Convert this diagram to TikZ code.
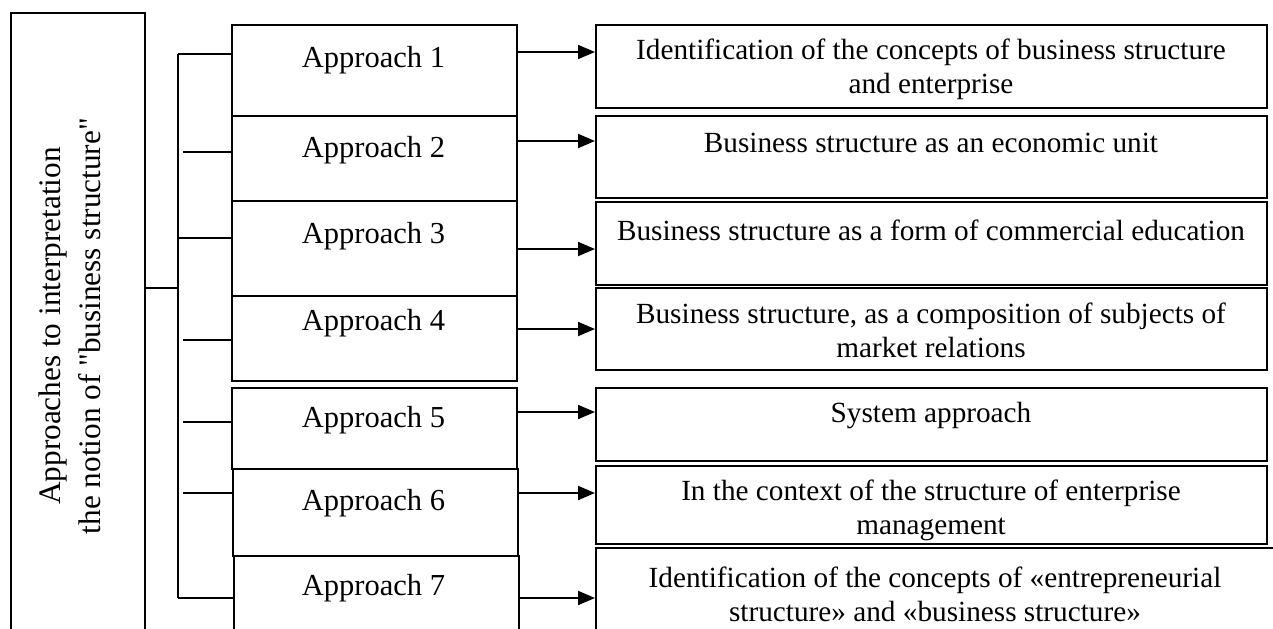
\documentclass[tikz,border=0pt]{standalone}
\usepackage{fontspec}
\setmainfont{Liberation Serif}[Ligatures=TeXOff]
\usepackage{tikz}
\usetikzlibrary{arrows.meta,positioning}
\tikzstyle{cell} = [draw, rectangle, inner sep=0pt]
\tikzstyle{apbox} = [cell, minimum width=114pt]
\tikzstyle{resbox} = [cell, minimum width=268.4pt]
\tikzstyle{txt} = [inner sep=0pt, align=center, font=\fontsize{11.7pt}{13.6pt}\selectfont]

\begin{document}
\begin{tikzpicture}[x=0.4pt, y=-0.4pt, >={Triangle[length=6.8pt,width=5.6pt]}, thick]
  \useasboundingbox (0,0) rectangle (1273,628);
  % left column
  \node [cell, rotate=90, minimum width=249.6pt, minimum height=53.6pt] (main) at (78,325) {};
  \node [txt, rotate=90, font=\fontsize{12.5pt}{16pt}\selectfont] (maint) at (70,326)
        {Approaches to interpretation\\the notion of "business structure"};

  % approaches
  \node [apbox, minimum height=36.4pt] (ap1) at (374,70.5) {};
  \node [apbox, minimum height=34pt] (ap2) at (374,158.5) {};
  \node [apbox, minimum height=38pt] (ap3) at (374,248.5) {};
  \node [apbox, minimum height=34pt] (ap4) at (374,338.5) {};
  \node [apbox, minimum height=32.4pt] (ap5) at (374,428.5) {};
  \node [apbox, minimum height=34.8pt] (ap6) at (375,512.5) {};
  \node [apbox, minimum height=41.6pt] (ap7) at (376,608) {};
  \foreach \i/\y in {1/60,2/150,3/236,4/323,5/420,6/503,7/588}
    \node [txt, font=\fontsize{12.2pt}{14pt}\selectfont] (apt\i) at (373.5,\y) {Approach \i};

  % interpretations
  \node [resbox, minimum height=33.2pt] (res1) at (931.5,66.5) {};
  \node [resbox, minimum height=32.8pt] (res2) at (931.5,157) {};
  \node [resbox, minimum height=33.2pt] (res3) at (931.5,243.5) {};
  \node [resbox, minimum height=32.8pt] (res4) at (931.5,329) {};
  \node [resbox, minimum height=29.2pt] (res5) at (931.5,424) {};
  \node [resbox, minimum height=31.2pt] (res6) at (931.5,505) {};
  \node [resbox, minimum width=281.6pt, minimum height=44.8pt] (res7) at (948,604) {};

  \node [txt] (rt1) at (931,69) {Identification of the concepts of business structure\\and enterprise};
  \node [txt] (rt2) at (931,143) {Business structure as an economic unit};
  \node [txt] (rt3) at (931,230) {Business structure as a form of commercial education};
  \node [txt] (rt4) at (931,330.5) {Business structure, as a composition of subjects of\\market relations};
  \node [txt] (rt5) at (931,415) {System approach};
  \node [txt] (rt6) at (931,510.5) {In the context of the structure of enterprise\\management};
  \node [txt] (rt7) at (935,594) {Identification of the concepts of «entrepreneurial\\structure» and «business structure»};

  % tree
  \coordinate (busTop) at (178,54);
  \coordinate (busBot) at (178,598);
  \draw (main.south |- 0,288) -- (busTop |- 0,288);
  \draw (busTop) -- (busBot);
  \foreach \i/\y/\g in {1/54/0,2/152/5,3/238/0,4/340/5,5/422/5,6/493/5,7/598/0}
    \draw ([xshift=\g*0.4pt]busTop |- 0,\y) -- (ap\i.west |- 0,\y);

  \foreach \i/\y in {1/52,2/141,3/249,4/329,5/412,6/493,7/598}
    \draw [->] (ap\i.east |- 0,\y) -- (res\i.west |- 0,\y);
\end{tikzpicture}
\end{document}
